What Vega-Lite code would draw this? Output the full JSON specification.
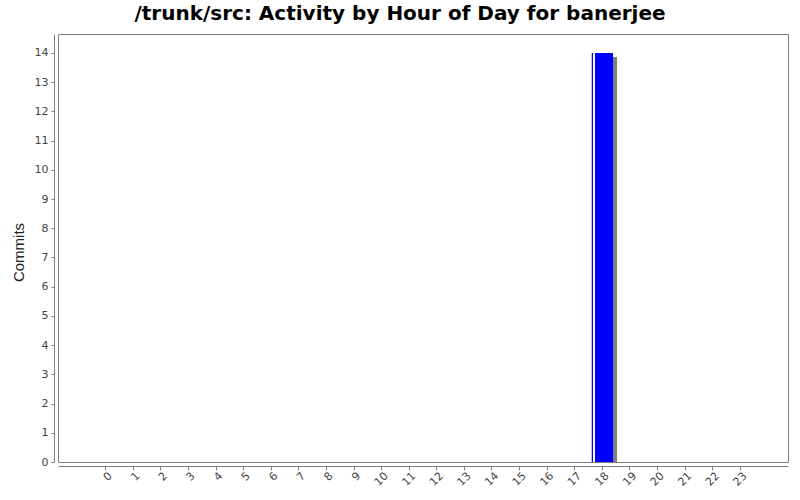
{
  "$schema": "https://vega.github.io/schema/vega-lite/v6.json",
  "autosize": "none",
  "width": 730,
  "height": 428,
  "padding": {"left": 58, "top": 34, "right": 12, "bottom": 38},
  "background": "white",
  "title": {
    "text": "/trunk/src: Activity by Hour of Day for banerjee",
    "fontSize": 20,
    "fontWeight": "bold",
    "font": "DejaVu Sans",
    "color": "#000000",
    "anchor": "middle",
    "dx": -23,
    "baseline": "alphabetic",
    "offset": -6
  },
  "data": {
    "values": [
      {"hour": 0, "commits": 0}, {"hour": 1, "commits": 0}, {"hour": 2, "commits": 0},
      {"hour": 3, "commits": 0}, {"hour": 4, "commits": 0}, {"hour": 5, "commits": 0},
      {"hour": 6, "commits": 0}, {"hour": 7, "commits": 0}, {"hour": 8, "commits": 0},
      {"hour": 9, "commits": 0}, {"hour": 10, "commits": 0}, {"hour": 11, "commits": 0},
      {"hour": 12, "commits": 0}, {"hour": 13, "commits": 0}, {"hour": 14, "commits": 0},
      {"hour": 15, "commits": 0}, {"hour": 16, "commits": 0}, {"hour": 17, "commits": 0},
      {"hour": 18, "commits": 14}, {"hour": 19, "commits": 0}, {"hour": 20, "commits": 0},
      {"hour": 21, "commits": 0}, {"hour": 22, "commits": 0}, {"hour": 23, "commits": 0}
    ]
  },
  "encoding": {
    "x": {
      "field": "hour",
      "type": "ordinal",
      "scale": {
        "domain": [-1, 0, 1, 2, 3, 4, 5, 6, 7, 8, 9, 10, 11, 12, 13, 14, 15, 16, 17, 18, 19, 20, 21, 22, 23, 24],
        "paddingInner": 0.228,
        "paddingOuter": 0.339
      },
      "axis": {
        "title": null,
        "offset": 4,
        "values": [0, 1, 2, 3, 4, 5, 6, 7, 8, 9, 10, 11, 12, 13, 14, 15, 16, 17, 18, 19, 20, 21, 22, 23],
        "labelAngle": -45,
        "labelAlign": "right",
        "labelBaseline": "middle",
        "labelOffset": 5,
        "labelPadding": 4,
        "tickSize": 4
      }
    },
    "y": {
      "field": "commits",
      "type": "quantitative",
      "scale": {"domain": [0, 14.65], "nice": false},
      "axis": {
        "title": "Commits",
        "offset": 4,
        "values": [0, 1, 2, 3, 4, 5, 6, 7, 8, 9, 10, 11, 12, 13, 14],
        "tickSize": 3,
        "labelPadding": 3,
        "grid": false,
        "titleAngle": -90,
        "titleX": -36,
        "titleY": 218,
        "titleAlign": "center",
        "titleBaseline": "middle"
      }
    }
  },
  "layer": [
    {
      "mark": {"type": "bar", "color": "#808080", "xOffset": 4, "yOffset": 4, "clip": true}
    },
    {
      "mark": {"type": "bar", "color": "#0000ff", "clip": true}
    },
    {
      "mark": {"type": "bar", "color": "#ffffff", "width": 2, "xOffset": -8.4, "clip": true},
      "transform": [{"filter": "datum.commits > 0"}]
    }
  ],
  "config": {
    "font": "DejaVu Sans",
    "view": {"stroke": "#808080", "strokeWidth": 1},
    "axis": {
      "domainColor": "#808080",
      "tickColor": "#808080",
      "labelColor": "#444444",
      "labelFont": "DejaVu Sans",
      "labelFontSize": 11,
      "titleFont": "Liberation Sans",
      "titleFontSize": 15,
      "titleFontWeight": "normal",
      "titleColor": "#222222"
    }
  }
}
